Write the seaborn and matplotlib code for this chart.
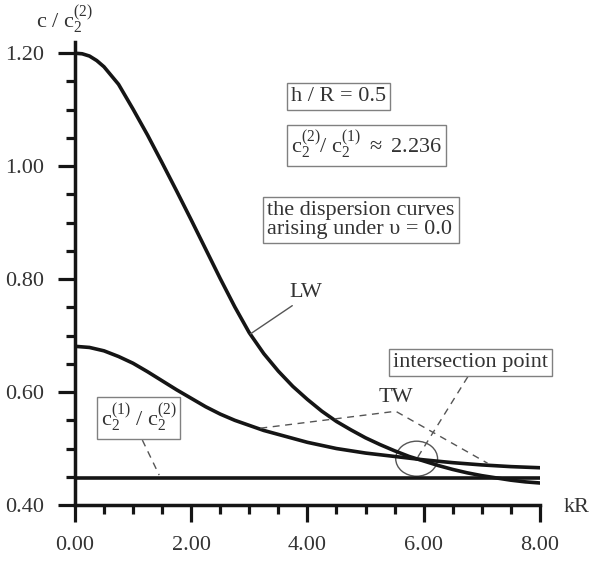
import matplotlib
matplotlib.use("Agg")
import matplotlib.pyplot as plt
import seaborn as sns
from matplotlib.patches import Ellipse
from matplotlib.ticker import MultipleLocator, FormatStrFormatter

# datos
kr_lw = [0.0, 0.125, 0.25, 0.375, 0.5, 0.75, 1.0, 1.25, 1.5, 1.75, 2.0, 2.25,
         2.5, 2.75, 3.0, 3.25, 3.5, 3.75, 4.0, 4.25, 4.5, 4.75, 5.0, 5.25, 5.5,
         5.75, 6.0, 6.25, 6.5, 6.75, 7.0, 7.25, 7.5, 7.75, 8.0]
c_lw = [1.200, 1.199, 1.195, 1.187, 1.176, 1.145, 1.101, 1.055, 1.006, 0.956,
        0.905, 0.853, 0.801, 0.751, 0.705, 0.668, 0.637, 0.610, 0.587, 0.566,
        0.548, 0.533, 0.519, 0.507, 0.496, 0.486, 0.478, 0.470, 0.463, 0.457,
        0.452, 0.448, 0.444, 0.441, 0.439]

kr_tw = [0.0, 0.25, 0.5, 0.75, 1.0, 1.25, 1.5, 1.75, 2.0, 2.25, 2.5, 2.75,
         3.0, 3.25, 3.5, 3.75, 4.0, 4.5, 5.0, 5.5, 6.0, 6.5, 7.0, 7.5, 8.0]
c_tw = [0.681, 0.679, 0.673, 0.663, 0.651, 0.636, 0.620, 0.604, 0.589, 0.574,
        0.561, 0.550, 0.541, 0.532, 0.525, 0.518, 0.511, 0.500, 0.492, 0.486,
        0.480, 0.475, 0.471, 0.468, 0.466]

kr_ratio = [0.0, 8.0]
c_ratio = [0.447, 0.447]

sns.set_style("ticks")
plt.rcParams["font.family"] = ["Liberation Serif", "DejaVu Serif"]
plt.rcParams["mathtext.fontset"] = "custom"
plt.rcParams["mathtext.rm"] = "Liberation Serif"
plt.rcParams["mathtext.it"] = "Liberation Serif"

negro = "#151515"
gris = "#333333"
borde = "#808080"

fig = plt.figure(figsize=(5.9, 5.62), dpi=100)
ax = fig.add_axes([0.127, 0.1014, 0.788, 0.824])

sns.lineplot(x=kr_lw, y=c_lw, ax=ax, color=negro, linewidth=2.6)
sns.lineplot(x=kr_tw, y=c_tw, ax=ax, color=negro, linewidth=2.6)
sns.lineplot(x=kr_ratio, y=c_ratio, ax=ax, color=negro, linewidth=2.6)

ax.set_xlim(0, 8)
ax.set_ylim(0.40, 1.22)
ax.xaxis.set_major_locator(MultipleLocator(2))
ax.xaxis.set_minor_locator(MultipleLocator(0.5))
ax.yaxis.set_minor_locator(MultipleLocator(0.05))
ax.xaxis.set_major_formatter(FormatStrFormatter("%.2f"))
ax.yaxis.set_major_formatter(FormatStrFormatter("%.2f"))
ax.set_yticks([0.4, 0.6, 0.8, 1.0, 1.2])

for s in ["top", "right"]:
    ax.spines[s].set_visible(False)
for s in ["left", "bottom"]:
    ax.spines[s].set_linewidth(2.5)
    ax.spines[s].set_color(negro)
ax.tick_params(which="major", length=12, width=2.3, color=negro, pad=10,
               labelsize=16, labelcolor=gris, direction="out")
ax.tick_params(which="minor", length=6.5, width=2.3, color=negro, direction="out")
ax.set_xlabel("")
ax.set_ylabel("")

caja = dict(boxstyle="square,pad=0.18", fc="white", ec=borde, lw=1)

ax.text(3.71, 1.124, "h / R = 0.5", fontsize=16, color=gris, ha="left",
        va="center", bbox=caja)
ax.text(3.72, 1.037, r"$\mathrm{c}_2^{(2)}$/ $\mathrm{c}_2^{(1)}$ $\approx$ 2.236",
        fontsize=16, color=gris, ha="left", va="center", bbox=caja)
ax.text(3.31, 0.905, "the dispersion curves\narising under υ = 0.0",
        fontsize=16, color=gris, ha="left", va="center", linespacing=1.0,
        bbox=caja)
ax.text(6.81, 0.653, "intersection point", fontsize=16, color=gris,
        ha="center", va="center", bbox=caja)
ax.text(1.09, 0.554, r"$\mathrm{c}_2^{(1)}$ / $\mathrm{c}_2^{(2)}$", fontsize=16,
        color=gris, ha="center", va="center", bbox=caja)
ax.text(3.98, 0.776, "LW", fontsize=16, color=gris, ha="center", va="center")
ax.text(5.53, 0.590, "TW", fontsize=16, color=gris, ha="center", va="center")

# lineas guia
ax.plot([3.74, 3.02], [0.753, 0.703], color="#555555", lw=1)
ax.plot([3.19, 5.52, 7.1], [0.536, 0.566, 0.474], color="#555555", lw=1,
        ls=(0, (5, 4)))
ax.plot([6.76, 5.90], [0.627, 0.485], color="#555555", lw=1, ls=(0, (5, 4)))
ax.plot([1.16, 1.45], [0.515, 0.453], color="#555555", lw=1, ls=(0, (5, 4)))
ax.add_patch(Ellipse((5.88, 0.482), 0.72, 0.062, fill=False, ec="#555555", lw=1))

fig.text(64 / 590, 1 - 20 / 562, r"c / $\mathrm{c}_2^{(2)}$", fontsize=16,
         color=gris, ha="center", va="center")
fig.text(577 / 590, 1 - 508 / 562, "kR", fontsize=16, color=gris,
         ha="center", va="center")

fig.savefig("out.png", dpi=100)
